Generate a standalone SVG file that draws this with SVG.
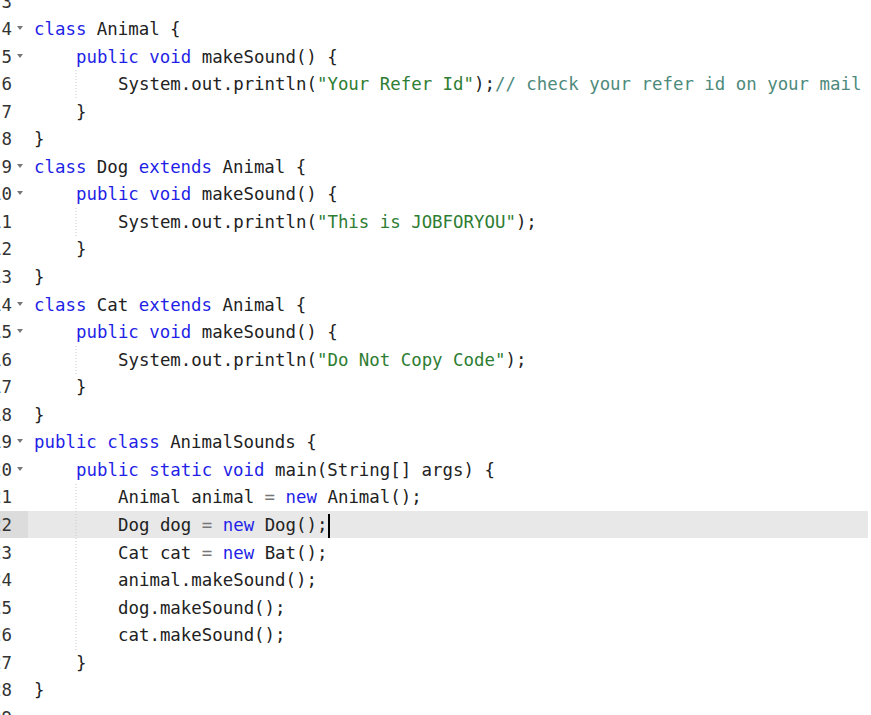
<svg xmlns="http://www.w3.org/2000/svg" width="871" height="715" viewBox="0 0 871 715">
<style>
text{font-family:"DejaVu Sans Mono","Liberation Mono",monospace;font-size:17.4px;fill:#222;white-space:pre}
.n{fill:#333;text-anchor:end}
.k{fill:#1f1fe6}
.s{fill:#2e7d32}
.c{fill:#4d8a7c}
.o{fill:#777}
.g{stroke:#ccc;stroke-width:1;stroke-dasharray:1 2}
.f{fill:#777}
</style>
<rect width="871" height="715" fill="#fff"/>
<rect x="28" y="511" width="840" height="27" fill="#e8e8e8"/>
<rect x="0" y="511" width="28" height="27" fill="#dcdcdc"/>
<g id="guides">
<line class="g" x1="76" y1="70" x2="76" y2="98"/>
<line class="g" x1="76" y1="208" x2="76" y2="236"/>
<line class="g" x1="76" y1="346" x2="76" y2="374"/>
<line class="g" x1="76" y1="484" x2="76" y2="650"/>
</g>
<g id="folds">
<path class="f" d="M17 26h6l-3 4z"/><path class="f" d="M17 54h6l-3 4z"/>
<path class="f" d="M17 164h6l-3 4z"/><path class="f" d="M17 191h6l-3 4z"/>
<path class="f" d="M17 302h6l-3 4z"/><path class="f" d="M17 329h6l-3 4z"/>
<path class="f" d="M17 439h6l-3 4z"/><path class="f" d="M17 467h6l-3 4z"/>
</g>
<g id="numbers">
<text class="n" x="12" y="7.5">3</text>
<text class="n" x="12" y="35">4</text>
<text class="n" x="12" y="62.6">5</text>
<text class="n" x="12" y="90.1">6</text>
<text class="n" x="12" y="117.7">7</text>
<text class="n" x="12" y="145.2">8</text>
<text class="n" x="12" y="172.8">9</text>
<text class="n" x="12" y="200.3">10</text>
<text class="n" x="12" y="227.9">11</text>
<text class="n" x="12" y="255.4">12</text>
<text class="n" x="12" y="283">13</text>
<text class="n" x="12" y="310.5">14</text>
<text class="n" x="12" y="338.1">15</text>
<text class="n" x="12" y="365.6">16</text>
<text class="n" x="12" y="393.2">17</text>
<text class="n" x="12" y="420.7">18</text>
<text class="n" x="12" y="448.3">19</text>
<text class="n" x="12" y="475.8">20</text>
<text class="n" x="12" y="503.4">21</text>
<text class="n" x="12" y="530.9">22</text>
<text class="n" x="12" y="558.5">23</text>
<text class="n" x="12" y="586">24</text>
<text class="n" x="12" y="613.6">25</text>
<text class="n" x="12" y="641.1">26</text>
<text class="n" x="12" y="668.7">27</text>
<text class="n" x="12" y="696.2">28</text>
<text class="n" x="12" y="723.8">29</text>
</g>
<g id="code">
<text x="34" y="35"><tspan class="k">class</tspan> Animal {</text>
<text x="76" y="62.6"><tspan class="k">public</tspan> <tspan class="k">void</tspan> makeSound() {</text>
<text x="118" y="90.1">System.out.println(<tspan class="s">"Your Refer Id"</tspan>);<tspan class="c">// check your refer id on your mail</tspan></text>
<text x="76" y="117.7">}</text>
<text x="34" y="145.2">}</text>
<text x="34" y="172.8"><tspan class="k">class</tspan> Dog <tspan class="k">extends</tspan> Animal {</text>
<text x="76" y="200.3"><tspan class="k">public</tspan> <tspan class="k">void</tspan> makeSound() {</text>
<text x="118" y="227.9">System.out.println(<tspan class="s">"This is JOBFORYOU"</tspan>);</text>
<text x="76" y="255.4">}</text>
<text x="34" y="283">}</text>
<text x="34" y="310.5"><tspan class="k">class</tspan> Cat <tspan class="k">extends</tspan> Animal {</text>
<text x="76" y="338.1"><tspan class="k">public</tspan> <tspan class="k">void</tspan> makeSound() {</text>
<text x="118" y="365.6">System.out.println(<tspan class="s">"Do Not Copy Code"</tspan>);</text>
<text x="76" y="393.2">}</text>
<text x="34" y="420.7">}</text>
<text x="34" y="448.3"><tspan class="k">public</tspan> <tspan class="k">class</tspan> AnimalSounds {</text>
<text x="76" y="475.8"><tspan class="k">public</tspan> <tspan class="k">static</tspan> <tspan class="k">void</tspan> main(String[] args) {</text>
<text x="118" y="503.4">Animal animal <tspan class="o">=</tspan> <tspan class="k">new</tspan> Animal();</text>
<text x="118" y="530.9">Dog dog <tspan class="o">=</tspan> <tspan class="k">new</tspan> Dog();</text>
<text x="118" y="558.5">Cat cat <tspan class="o">=</tspan> <tspan class="k">new</tspan> Bat();</text>
<text x="118" y="586">animal.makeSound();</text>
<text x="118" y="613.6">dog.makeSound();</text>
<text x="118" y="641.1">cat.makeSound();</text>
<text x="76" y="668.7">}</text>
<text x="34" y="696.2">}</text>
</g>
<rect x="328" y="514" width="2" height="24" fill="#000"/>
</svg>
